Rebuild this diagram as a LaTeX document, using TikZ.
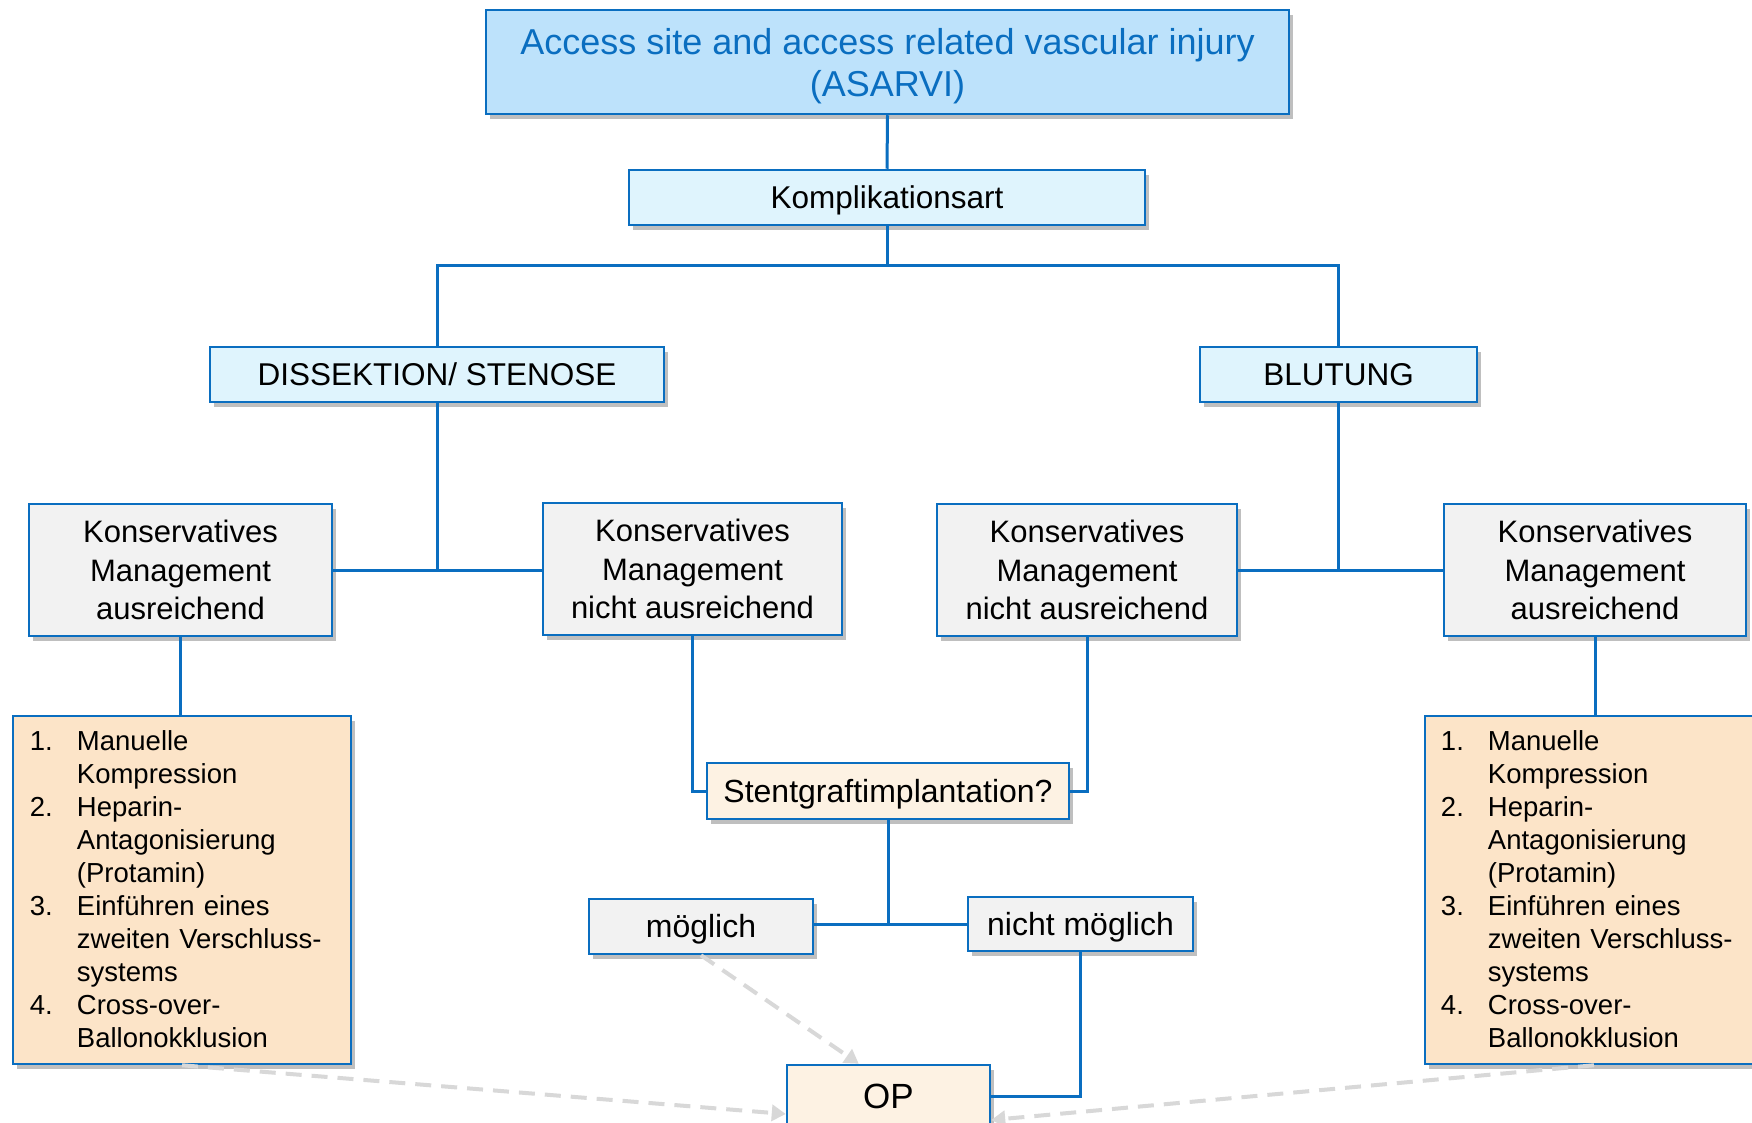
\documentclass[tikz,border=0pt]{standalone}
\usepackage{fontspec}
\setmainfont{Liberation Sans}
\usetikzlibrary{shadows,arrows.meta,calc}
\definecolor{bord}{HTML}{0A6EC0}
\definecolor{topfill}{HTML}{BDE2FB}
\definecolor{lvlfill}{HTML}{DFF4FD}
\definecolor{grayfill}{HTML}{F2F2F2}
\definecolor{listfill}{HTML}{FCE4C8}
\definecolor{opfill}{HTML}{FDF2E3}
\definecolor{dashgray}{HTML}{D8D8D8}
\newcommand{\litem}[2]{\par\hangindent=47pt\hangafter=1\noindent\makebox[47pt][l]{#1}#2\par}
\newcommand{\nl}{\hfil\break}
\tikzset{
 box/.style={draw=bord, line width=2.5pt, inner sep=0pt, align=center,
   drop shadow={shadow xshift=4pt, shadow yshift=-5pt, fill=black, opacity=0.25}},
 topbox/.style={box, fill=topfill},
 toptext/.style={inner sep=0pt, align=center, text=bord, font=\fontsize{36}{42}\selectfont},
 lvlbox/.style={box, fill=lvlfill, font=\fontsize{31.5}{38}\selectfont, text height=28.5pt, text depth=6.7pt},
 kmbox/.style={box, fill=grayfill, font=\fontsize{31}{38.5}\selectfont},
 listbox/.style={box, fill=listfill},
 opbox/.style={box, fill=opfill, font=\fontsize{32}{38}\selectfont, text height=29pt, text depth=6.8pt},
 graybox/.style={box, fill=grayfill, font=\fontsize{32}{38}\selectfont, text height=29pt, text depth=6.8pt},
 conn/.style={draw=bord, line width=3pt},
 dasharrow/.style={draw=dashgray, line width=4pt, dash pattern=on 16pt off 10pt,
   -{Triangle[length=14pt,width=16pt]}},
 listtext/.style={anchor=north west, inner sep=0pt, text width=310pt, align=left,
   font=\fontsize{27.5}{33}\selectfont},
}
\begin{document}
\begin{tikzpicture}[x=1pt,y=-1pt]
\useasboundingbox (0,0) rectangle (1752,1123);
\clip (0,0) rectangle (1752,1123);
\fill[white] (0,0) rectangle (1752,1123);

% nodes
\node[topbox, minimum width=803pt, minimum height=104pt] (top) at (887.5,62) {};
\node[toptext] (toptxt) at ($(top.center)+(0,4)$) {Access site and access related vascular injury\\(ASARVI)};
\node[lvlbox, minimum width=516pt, minimum height=55pt] (kompl) at (887,197.5) {Komplikationsart};
\node[lvlbox, minimum width=454pt, minimum height=55pt] (diss) at (437,374.5) {DISSEKTION/ STENOSE};
\node[lvlbox, minimum width=277pt, minimum height=55pt] (blut) at (1338.5,374.5) {BLUTUNG};

\node[kmbox, minimum width=303pt, minimum height=132pt] (kmaL) at (180.5,570) {Konservatives\\Management\\ausreichend};
\node[kmbox, minimum width=299pt, minimum height=132pt] (kmnL) at (692.5,569) {Konservatives\\Management\\nicht ausreichend};
\node[kmbox, minimum width=300pt, minimum height=132pt] (kmnR) at (1087,570) {Konservatives\\Management\\nicht ausreichend};
\node[kmbox, minimum width=302pt, minimum height=132pt] (kmaR) at (1595,570) {Konservatives\\Management\\ausreichend};

\node[listbox, minimum width=338pt, minimum height=348pt] (listL) at (182,890) {};
\node[listbox, minimum width=338pt, minimum height=348pt] (listR) at (1594,890) {};

\node[listtext] (ltL) at ($(listL.north west)+(18,3)$) {%
\litem{1.}{Manuelle\nl Kompression}%
\litem{2.}{Heparin-\nl Antagonisierung\nl (Protamin)}%
\litem{3.}{Einführen eines\nl zweiten Verschluss-\nl systems}%
\litem{4.}{Cross-over-\nl Ballonokklusion}};
\node[listtext] (ltR) at ($(listR.north west)+(17,3)$) {%
\litem{1.}{Manuelle\nl Kompression}%
\litem{2.}{Heparin-\nl Antagonisierung\nl (Protamin)}%
\litem{3.}{Einführen eines\nl zweiten Verschluss-\nl systems}%
\litem{4.}{Cross-over-\nl Ballonokklusion}};

\node[opbox, minimum width=362pt, minimum height=56pt] (stent) at (888,791) {Stentgraftimplantation?};
\node[graybox, minimum width=224pt, minimum height=55pt] (moeg) at (701,926.5) {möglich};
\node[graybox, minimum width=225pt, minimum height=54pt] (nicht) at (1080.5,924) {nicht möglich};
\node[opbox, font=\fontsize{35}{40}\selectfont, text height=31.7pt, text depth=7.4pt, minimum width=203pt, minimum height=62pt] (op) at (888.5,1096) {OP};

% connectors
\coordinate (hbar) at (0,265);
\draw[conn] (top.south) -- (kompl.north);
\draw[conn] (kompl.south) -- (kompl.south |- hbar);
\draw[conn] (diss.north) |- (blut.north |- hbar) -- (blut.north);
\draw[conn] (kmaL.east) -- (kmaL.east -| kmnL.west);
\draw[conn] (diss.south) -- (diss.south |- kmaL.east);
\draw[conn] (kmnR.east) -- (kmnR.east -| kmaR.west);
\draw[conn] (blut.south) -- (blut.south |- kmnR.east);
\draw[conn] (kmaL.south) -- (kmaL.south |- listL.north);
\draw[conn] (kmaR.south) -- (kmaR.south |- listR.north);
\draw[conn] (kmnL.south) |- (stent.west);
\draw[conn] (kmnR.south) |- (stent.east);
\draw[conn] (stent.south) -- (stent.south |- nicht.west);
\draw[conn] (moeg.east |- nicht.west) -- (nicht.west);
\draw[conn] (nicht.south) |- (op.east);

% dashed arrows
\draw[dasharrow] (moeg.south) -- ($(op.north west)+(73,0)$);
\draw[dasharrow] (listL.south) -- ($(op.west)+(0,18)$);
\draw[dasharrow] (listR.south) -- ($(op.east)+(0,24)$);
\end{tikzpicture}
\end{document}
